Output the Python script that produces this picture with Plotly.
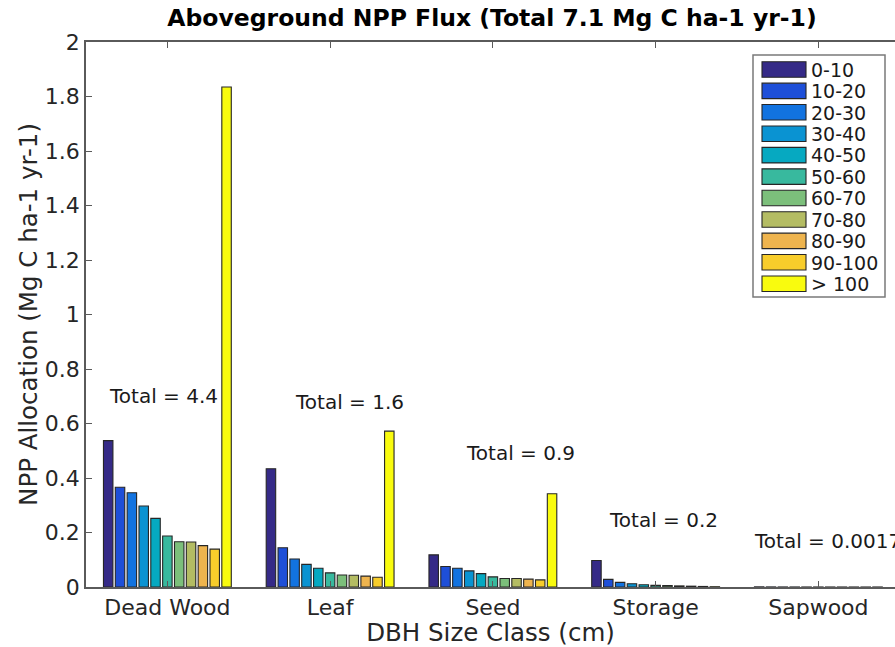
import plotly.graph_objects as go

# NPP allocation components (x axis) and DBH size classes (bar series)
components = ["Dead Wood", "Leaf", "Seed", "Storage", "Sapwood"]
size_classes = ["0-10", "10-20", "20-30", "30-40", "40-50", "50-60",
                "60-70", "70-80", "80-90", "90-100", "> 100"]

# NPP allocation (Mg C ha-1 yr-1) per size class, one list per component
dead_wood = [0.537, 0.366, 0.346, 0.297, 0.252, 0.187, 0.166, 0.165, 0.152, 0.139, 1.835]
leaf = [0.434, 0.144, 0.103, 0.083, 0.069, 0.052, 0.044, 0.043, 0.040, 0.036, 0.572]
seed = [0.118, 0.075, 0.069, 0.059, 0.049, 0.037, 0.031, 0.031, 0.029, 0.026, 0.342]
storage = [0.097, 0.028, 0.017, 0.012, 0.008, 0.006, 0.005, 0.004, 0.003, 0.002, 0.001]
sapwood = [0.0005, 0.0003, 0.0002, 0.00015, 0.00012, 0.0001, 0.00008, 0.00007,
           0.00006, 0.00005, 0.00007]

# parula-style colours for the size classes
class_colors = ["#352A87", "#1E4FD8", "#1273E0", "#0A93D2", "#06A9C1", "#38B99E",
                "#7CBF7B", "#B4BC63", "#EEB44E", "#F8CD2B", "#F9FB0E"]

# placement of the "Total = ..." labels (x in axis units, y in NPP units)
total_label_x = [0.63, 1.77, 2.82, 3.70, 4.595]
total_label_y = [0.70, 0.68, 0.49, 0.245, 0.17]

title_text = "Aboveground NPP Flux (Total 7.1 Mg C ha-1 yr-1)"

per_component = [dead_wood, leaf, seed, storage, sapwood]
x_pos = list(range(1, len(components) + 1))

FONT = "DejaVu Sans, Verdana, sans-serif"
AXIS_COLOR = "#5a5a5a"
TEXT_COLOR = "#262626"

fig = go.Figure()
for i, (name, color) in enumerate(zip(size_classes, class_colors)):
    fig.add_trace(go.Bar(
        x=x_pos,
        y=[vals[i] for vals in per_component],
        name=name,
        marker=dict(color=color, line=dict(color="#262626", width=1.1)),
        showlegend=False,
    ))

# total per component written above each group
for xi, yi, vals in zip(total_label_x, total_label_y, per_component):
    t = sum(vals)
    label = f"{t:.1f}" if t >= 0.05 else f"{t:.2g}"
    fig.add_annotation(x=xi, y=yi, xref="x", yref="y", text=f"Total = {label}",
                       showarrow=False, xanchor="left", yanchor="middle",
                       font=dict(family=FONT, size=20, color="#1a1a1a"))

# legend box drawn in plot-area coordinates
L, T, W, H = 86, 42, 809, 545  # plot area in pixels


def px_x(px):
    return (px - L) / W


def px_y(py):
    return (T + H - py) / H


box_left, box_top, box_right, box_bottom = 753, 55, 885, 297
fig.add_shape(type="rect", xref="paper", yref="paper",
              x0=px_x(box_left), x1=px_x(box_right),
              y0=px_y(box_bottom), y1=px_y(box_top),
              line=dict(color="#7a7a7a", width=1.5), fillcolor="white", layer="above")
pitch = 21.43
for i, (name, color) in enumerate(zip(size_classes, class_colors)):
    top = 61.7 + i * pitch
    fig.add_shape(type="rect", xref="paper", yref="paper",
                  x0=px_x(762), x1=px_x(806), y0=px_y(top + 15.5), y1=px_y(top),
                  line=dict(color="#262626", width=1.1), fillcolor=color, layer="above")
    fig.add_annotation(x=px_x(809), y=px_y(top + 8), xref="paper", yref="paper",
                       text=name, showarrow=False, xanchor="left", yanchor="middle",
                       font=dict(family=FONT, size=19, color="#1a1a1a"))

fig.update_layout(
    width=895, height=647,
    margin=dict(l=L, r=895 - L - W, t=T, b=647 - T - H, pad=0),
    paper_bgcolor="white", plot_bgcolor="white",
    barmode="group", bargap=0.2, bargroupgap=0.2,
    title=dict(text=f"<b>{title_text}</b>", x=px_x(492), xref="paper",
               xanchor="center", y=1 - 18 / 647, yanchor="middle",
               font=dict(family=FONT, size=23.5, color="#000000")),
    font=dict(family=FONT, color=TEXT_COLOR),
)
fig.update_xaxes(
    range=[0.5, 0.5 + W / 162.75],
    tickmode="array", tickvals=x_pos, ticktext=components,
    ticks="inside", ticklen=6, tickcolor=AXIS_COLOR,
    showline=True, linecolor=AXIS_COLOR, linewidth=1.5, mirror="ticks",
    showgrid=False, zeroline=False,
    tickfont=dict(family=FONT, size=22, color=TEXT_COLOR),
    title=dict(text="DBH Size Class (cm)", standoff=4,
               font=dict(family=FONT, size=24.5, color=TEXT_COLOR)),
)
fig.update_yaxes(
    range=[0, 2], tickmode="linear", tick0=0, dtick=0.2,
    ticks="inside", ticklen=6, tickcolor=AXIS_COLOR,
    showline=True, linecolor=AXIS_COLOR, linewidth=1.5, mirror=False,
    showgrid=False, zeroline=False,
    tickfont=dict(family=FONT, size=22, color=TEXT_COLOR),
    title=dict(text="NPP Allocation (Mg C ha-1 yr-1)", standoff=0,
               font=dict(family=FONT, size=24.5, color=TEXT_COLOR)),
)

fig.write_html("out.html")
